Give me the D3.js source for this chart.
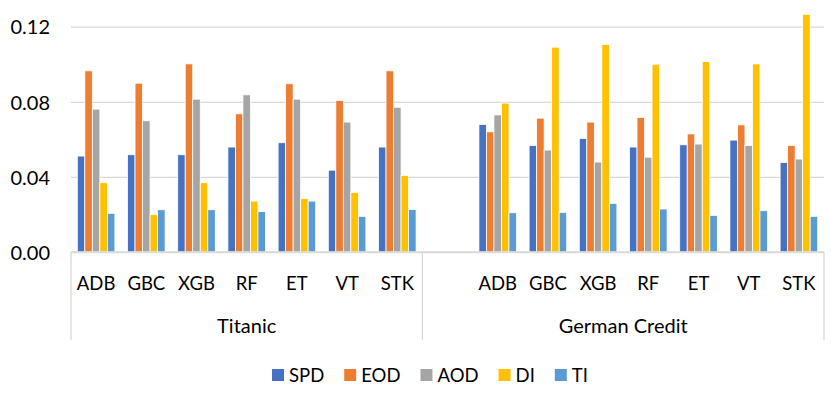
<!DOCTYPE html>
<html>
<head>
<meta charset="utf-8">
<script src="https://cdn.jsdelivr.net/npm/d3@7"></script>
<style>
  body { margin: 0; background: #fff; }
  text { font-family: "Lato", "Open Sans", sans-serif; fill: #000; }
</style>
</head>
<body>
<div id="chart"></div>
<script>
// data
var groups = ["Titanic", "German Credit"];
var titanicLabels = ["ADB", "GBC", "XGB", "RF", "ET", "VT", "STK"];
var germanLabels = ["", "ADB", "GBC", "XGB", "RF", "ET", "VT", "STK"];   // first slot is empty in the original
var metrics = ["SPD", "EOD", "AOD", "DI", "TI"];
var colors = ["#4472C4", "#ED7D31", "#A5A5A5", "#FFC000", "#5B9BD5"];
var yTicks = [0, 0.04, 0.08, 0.12];

// Titanic, one array per metric (ADB .. STK)
var titanicSPD = [0.0511, 0.0518, 0.0518, 0.0559, 0.0582, 0.0436, 0.0559];
var titanicEOD = [0.0965, 0.0899, 0.1002, 0.0736, 0.0896, 0.0807, 0.0965];
var titanicAOD = [0.0761, 0.0699, 0.0814, 0.0837, 0.0814, 0.0692, 0.0771];
var titanicDI  = [0.0369, 0.0199, 0.0369, 0.0271, 0.0284, 0.0317, 0.0408];
var titanicTI  = [0.0206, 0.0225, 0.0225, 0.0215, 0.0271, 0.0190, 0.0226];

// German Credit (empty slot, then ADB .. STK)
var germanSPD = [null, 0.0679, 0.0567, 0.0605, 0.0559, 0.0571, 0.0596, 0.0477];
var germanEOD = [null, 0.0640, 0.0713, 0.0692, 0.0717, 0.0629, 0.0677, 0.0567];
var germanAOD = [null, 0.0730, 0.0543, 0.0479, 0.0505, 0.0575, 0.0567, 0.0495];
var germanDI  = [null, 0.0793, 0.1091, 0.1105, 0.1000, 0.1014, 0.1002, 0.1266];
var germanTI  = [null, 0.0209, 0.0211, 0.0259, 0.0229, 0.0195, 0.0220, 0.0190];

(function(){

  var W = 831, H = 397;
  var left = 71, right = 824, top = 26.7, base = 252;

  var svg = d3.select("#chart")
    .append("svg")
      .attr("width", W)
      .attr("height", H);

  ///////////////////////////////////////// build slots
  var slots = [];
  var titanicSeries = [titanicSPD, titanicEOD, titanicAOD, titanicDI, titanicTI];
  var germanSeries = [germanSPD, germanEOD, germanAOD, germanDI, germanTI];
  titanicLabels.forEach(function(l, i){
    slots.push({ key: "T" + i, group: groups[0], label: l,
      values: metrics.map(function(m, j){ return { metric: m, v: titanicSeries[j][i] }; }) });
  });
  germanLabels.forEach(function(l, i){
    slots.push({ key: "G" + i, group: groups[1], label: l,
      values: metrics.map(function(m, j){ return { metric: m, v: germanSeries[j][i] }; }) });
  });

  ///////////////////////////////////////// scales
  var x0 = d3.scaleBand()
    .domain(slots.map(function(d){ return d.key; }))
    .range([left, right])
    .padding(0);

  var x1 = d3.scaleBand()
    .domain(metrics)
    .range([0, x0.bandwidth()])
    .paddingInner(0)
    .paddingOuter(0.84);

  var y = d3.scaleLinear()
    .domain([0, 0.12])
    .range([base, top]);

  var color = d3.scaleOrdinal().domain(metrics).range(colors);

  ///////////////////////////////////////// Y axis + gridlines
  var yAxis = svg.append("g")
    .attr("transform", "translate(" + left + ",0)")
    .call(d3.axisLeft(y)
      .tickValues(yTicks)
      .tickSize(-(right - left))
      .tickPadding(21)
      .tickFormat(d3.format(".2f")));
  yAxis.select(".domain").remove();
  yAxis.selectAll(".tick line")
    .attr("stroke", "#d9d9d9")
    .attr("stroke-width", 1.3);
  yAxis.selectAll(".tick text")
    .attr("font-size", "20px")
    .attr("dy", "0.36em")
    .style("font-family", "Lato, sans-serif");

  ///////////////////////////////////////// bars
  var slotG = svg.selectAll(".slot")
    .data(slots)
    .enter()
    .append("g")
      .attr("class", "slot")
      .attr("transform", function(d){ return "translate(" + x0(d.key) + ",0)"; });

  slotG.selectAll("rect")
    .data(function(d){ return d.values.filter(function(v){ return v.v != null; }); })
    .enter()
    .append("rect")
      .attr("x", function(d){ return x1(d.metric); })
      .attr("y", function(d){ return y(d.v); })
      .attr("width", x1.bandwidth())
      .attr("height", function(d){ return base - y(d.v); })
      .attr("fill", function(d){ return color(d.metric); })
      .attr("stroke", "#fff")
      .attr("stroke-width", 0.8);

  ///////////////////////////////////////// category axis
  var xAxis = svg.append("g")
    .attr("transform", "translate(0," + base + ")")
    .call(d3.axisBottom(x0)
      .tickSize(0)
      .tickPadding(0)
      .tickFormat(function(k){ return slots.find(function(s){ return s.key === k; }).label; }));
  xAxis.select(".domain").remove();
  xAxis.selectAll(".tick text")
    .attr("y", 38)
    .attr("dy", 0)
    .attr("font-size", "18.5px")
    .style("font-family", "Lato, sans-serif");

  // baseline
  svg.append("line")
    .attr("x1", left).attr("x2", right)
    .attr("y1", base).attr("y2", base)
    .attr("stroke", "#d9d9d9")
    .attr("stroke-width", 1.3);

  // group separators and labels
  var bounds = [x0("T0"), x0("G0"), right];
  svg.selectAll(".sep")
    .data(bounds)
    .enter()
    .append("line")
      .attr("x1", function(d){ return d; })
      .attr("x2", function(d){ return d; })
      .attr("y1", base)
      .attr("y2", 340)
      .attr("stroke", "#d9d9d9")
      .attr("stroke-width", 1.3);

  svg.selectAll(".grp")
    .data(groups)
    .enter()
    .append("text")
      .attr("x", function(d, i){ return (bounds[i] + bounds[i + 1]) / 2; })
      .attr("y", 333)
      .attr("text-anchor", "middle")
      .attr("font-size", "20px")
      .text(function(d){ return d; });

  ///////////////////////////////////////// legend (flows left to right)
  var legX = 272;
  metrics.forEach(function(m){
    var g = svg.append("g").attr("transform", "translate(" + legX + ",369)");
    g.append("rect")
      .attr("width", 12)
      .attr("height", 12)
      .attr("fill", color(m));
    var t = g.append("text")
      .attr("x", 17)
      .attr("y", 12.5)
      .attr("font-size", "18.5px")
      .text(m);
    legX += 17 + t.node().getComputedTextLength() + 20;
  });

})();
</script>
</body>
</html>
